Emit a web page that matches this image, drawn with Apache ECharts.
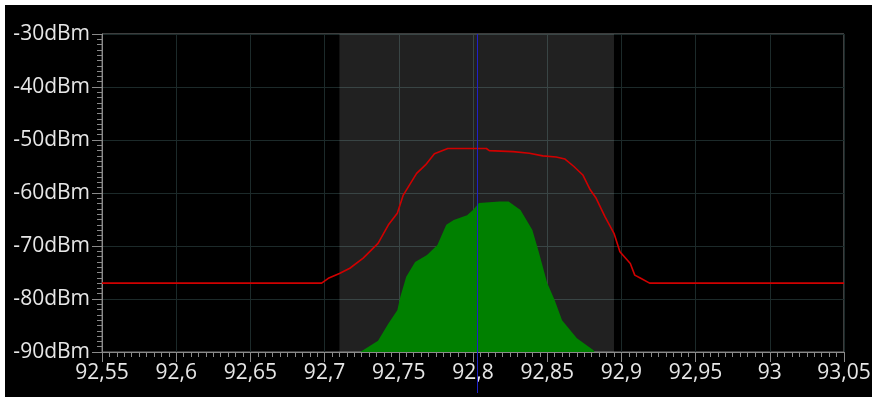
<!DOCTYPE html>
<html><head><meta charset="utf-8">
<script src="https://cdn.jsdelivr.net/npm/echarts@6/dist/echarts.min.js"></script>
<style>
html,body{margin:0;padding:0;background:#fff;width:872px;height:401px;overflow:hidden}
#c{position:absolute;left:5px;top:5px;width:867px;height:392px;background:#000}
</style></head><body><div id="c"></div>
<script>
const xMin = 92.55, xMax = 93.05, xStep = 0.05;
const yMin = -90, yMax = -30, yStep = 10;
const bandRange = [92.71, 92.895];
const markerFreq = 92.803;
const maxHoldFreq = [92.55,92.698,92.7025,92.710,92.717,92.726,92.736,92.743,92.749,92.753,92.762,92.768,92.774,92.783,92.809,92.811,92.827,92.838,92.847,92.856,92.862,92.868,92.874,92.879,92.883,92.889,92.895,92.899,92.906,92.909,92.913,92.919,93.05];
const maxHoldDb = [-77,-77,-76.1,-75.2,-74.2,-72.3,-69.5,-66.0,-63.8,-60.4,-56.3,-54.7,-52.6,-51.6,-51.6,-52.0,-52.2,-52.5,-53.0,-53.2,-53.6,-55.0,-56.6,-59.4,-61.0,-64.5,-67.6,-71.1,-73.3,-75.5,-76.1,-77,-77];
const liveFreq = [92.724,92.736,92.743,92.749,92.751,92.755,92.761,92.769,92.776,92.782,92.787,92.796,92.800,92.804,92.818,92.824,92.832,92.836,92.840,92.844,92.850,92.855,92.860,92.870,92.881,92.882];
const liveDb = [-90,-87.9,-84.6,-82.1,-79.6,-75.8,-73.0,-71.7,-69.8,-66.0,-65.1,-64.2,-63.2,-61.9,-61.6,-61.6,-63.2,-65.1,-67.0,-70.8,-77.0,-80.2,-84.0,-87.4,-89.6,-90];

const pair = (xs, ys) => xs.map((x,i)=>[x, ys[i]]);
const chart = echarts.init(document.getElementById('c'));
const labelFont = {color:'#e6e6e6', fontSize:21, fontFamily:'Open Sans'};
chart.setOption({
  animation:false,
  backgroundColor:'#000',
  grid:{left:97,top:29,right:28,bottom:45,outerBoundsMode:'none',containLabel:false,show:true,borderColor:'#7a7a7a',borderWidth:1,backgroundColor:'transparent'},
  xAxis:{type:'value',min:xMin,max:xMax,interval:xStep,
    axisLine:{show:true,onZero:false,lineStyle:{color:'#8a8a8a',width:1}},
    axisTick:{show:true,length:10,lineStyle:{color:'#8a8a8a'}},
    minorTick:{show:true,splitNumber:10,length:5,lineStyle:{color:'#8a8a8a'}},
    splitLine:{show:true,lineStyle:{color:'#1c2a2a',width:1}},
    axisLabel:Object.assign({margin:11,formatter:v=>String(+v.toFixed(2)).replace('.',',')},labelFont)},
  yAxis:{type:'value',min:yMin,max:yMax,interval:yStep,
    axisLine:{show:true,onZero:false,lineStyle:{color:'#8a8a8a',width:1}},
    axisTick:{show:true,length:10,lineStyle:{color:'#8a8a8a'}},
    minorTick:{show:true,splitNumber:10,length:5,lineStyle:{color:'#8a8a8a'}},
    splitLine:{show:true,lineStyle:{color:'#1c2a2a',width:1}},
    axisLabel:Object.assign({margin:12,formatter:v=>v+'dBm'},labelFont)},
  series:[
    {type:'line',data:[],silent:true,
      markArea:{silent:true,itemStyle:{color:'rgba(255,255,255,0.13)'},data:[[{xAxis:bandRange[0]},{xAxis:bandRange[1]}]]}},
    {type:'line',data:pair(liveFreq,liveDb),symbol:'none',lineStyle:{width:0},
      areaStyle:{color:'#008000',opacity:1,origin:'start'},z:3},
    {type:'line',data:pair(maxHoldFreq,maxHoldDb),symbol:'none',lineStyle:{color:'#d00000',width:1.6},z:4}
  ]
});
const pTop = chart.convertToPixel({gridIndex:0},[markerFreq,yMax]);
const pBot = chart.convertToPixel({gridIndex:0},[markerFreq,yMin]);
chart.setOption({graphic:[{type:'line',z:10,silent:true,
  shape:{x1:Math.round(pTop[0])+0.5,y1:pTop[1],x2:Math.round(pBot[0])+0.5,y2:pBot[1]+41},
  style:{stroke:'#2020c8',lineWidth:1}}]});
</script></body></html>
